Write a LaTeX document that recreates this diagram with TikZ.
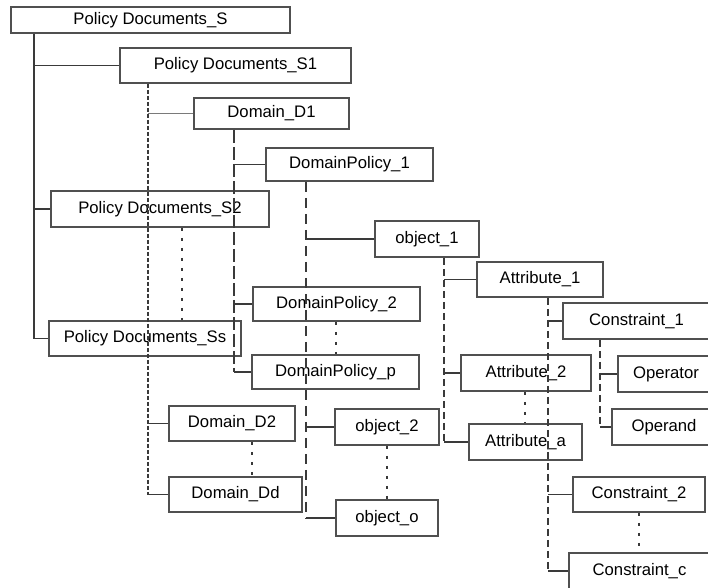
\documentclass[tikz,border=0pt]{standalone}
\usepackage{fontspec}
\setmainfont{Liberation Sans}
\definecolor{boxgray}{HTML}{505050}
\definecolor{linegray}{HTML}{3A3A3A}
\definecolor{paleline}{HTML}{7A7A7A}
\tikzset{
  box/.style={draw=boxgray, line width=1.5pt, inner sep=0pt,
    font=\fontsize{16.7}{20}\selectfont, text=black},
  link/.style={draw=linegray, line width=1.3pt},
  thinlink/.style={draw=paleline, line width=1.1pt},
  shortdash/.style={link, line width=1.6pt, dash pattern=on 4pt off 2pt},
  longdash/.style={link, dash pattern=on 13pt off 4pt},
  widedash/.style={link, dash pattern=on 10pt off 6pt},
  meddash/.style={link, dash pattern=on 7pt off 4pt},
  dotlink/.style={link, line width=1.5pt, dash pattern=on 3pt off 7pt},
}
% box from its corners: name, x1, y1, x2, y2, text
\newcommand{\mkbox}[6]{%
  \node[box, minimum width={#4-#2}, minimum height={#5-#3}]
    (#1) at ({(#2+#4)/2},{(#3+#5)/2}) {#6};}
\begin{document}
\begin{tikzpicture}[x=1pt, y=-1pt]
\useasboundingbox (0,0) rectangle (708,587);
\clip (0,0) rectangle (708,587);

% policy document level
\mkbox{S}{11}{7}{290}{33}{Policy Documents\_S}
\mkbox{Sa}{120}{48}{351}{83}{Policy Documents\_S1}
\mkbox{Sb}{51}{191}{269}{227}{Policy Documents\_S2}
\mkbox{Ss}{49}{321}{241}{356}{Policy Documents\_Ss}
% domains
\mkbox{Da}{194}{98}{349}{129}{Domain\_D1}
\mkbox{Db}{169}{406}{295}{441}{Domain\_D2}
\mkbox{Dd}{169}{477}{302}{512}{Domain\_Dd}
% domain policies
\mkbox{Pa}{266}{148}{433}{181}{DomainPolicy\_1}
\mkbox{Pb}{253}{287}{420}{321}{DomainPolicy\_2}
\mkbox{Pp}{252}{355}{419}{389}{DomainPolicy\_p}
% objects
\mkbox{Oa}{375}{221}{479}{257}{object\_1}
\mkbox{Ob}{335}{409}{439}{445}{object\_2}
\mkbox{Oo}{336}{500}{438}{536}{object\_o}
% attributes
\mkbox{Aa}{477}{262}{603}{297}{Attribute\_1}
\mkbox{Ab}{461}{355}{591}{391}{Attribute\_2}
\mkbox{Az}{469}{424}{582}{460}{Attribute\_a}
% constraints
\mkbox{Ca}{563}{303}{710}{339}{Constraint\_1}
\mkbox{Cb}{573}{477}{705}{512}{Constraint\_2}
\mkbox{Cc}{569}{553}{710}{589}{Constraint\_c}
\mkbox{Op}{618}{356}{714}{392}{Operator}
\mkbox{Od}{612}{409}{716}{445}{Operand}

% S -> S1, S2, Ss
\draw[link] (34,0 |- S.south) -- (34,0 |- Ss.west) -- (Ss.west);
\draw[link] (34,0 |- Sa.west) -- (Sa.west);
\draw[link] (34,0 |- Sb.west) -- (Sb.west);
\draw[dotlink] (182,0 |- Sb.south) -- (182,0 |- Ss.north);

% S1 -> D1, D2, Dd
\draw[shortdash] (148,0 |- Sa.south) -- (148,0 |- Dd.west);
\draw[thinlink] (148,0 |- Da.west) -- (Da.west);
\draw[link] (148,0 |- Db.west) -- (Db.west);
\draw[link] (148,0 |- Dd.west) -- (Dd.west);
\draw[dotlink] (252,0 |- Db.south) -- (252,0 |- Dd.north);

% D1 -> DomainPolicy_1, _2, _p
\draw[longdash] (234,0 |- Da.south) -- (234,0 |- Pp.west);
\draw[link] (234,0 |- Pa.west) -- (Pa.west);
\draw[link] (234,0 |- Pb.west) -- (Pb.west);
\draw[link] (234,0 |- Pp.west) -- (Pp.west);
\draw[dotlink] (336,0 |- Pb.south) -- (336,0 |- Pp.north);

% DomainPolicy_1 -> objects
\draw[widedash] (306,0 |- Pa.south) -- (306,0 |- Oo.west);
\draw[link] (306,0 |- Oa.west) -- (Oa.west);
\draw[link] (306,0 |- Ob.west) -- (Ob.west);
\draw[link] (306,0 |- Oo.west) -- (Oo.west);
\draw[dotlink] (387,0 |- Ob.south) -- (387,0 |- Oo.north);

% object_1 -> attributes
\draw[meddash] (444,0 |- Oa.south) -- (444,0 |- Az.west);
\draw[link] (444,0 |- Aa.west) -- (Aa.west);
\draw[link] (444,0 |- Ab.west) -- (Ab.west);
\draw[link] (444,0 |- Az.west) -- (Az.west);
\draw[dotlink] (525,0 |- Ab.south) -- (525,0 |- Az.north);

% Attribute_1 -> constraints
\draw[meddash] (548,0 |- Aa.south) -- (548,0 |- Cc.west);
\draw[link] (548,0 |- Ca.west) -- (Ca.west);
\draw[link] (548,0 |- Cb.west) -- (Cb.west);
\draw[link] (548,0 |- Cc.west) -- (Cc.west);
\draw[dotlink] (639,0 |- Cb.south) -- (639,0 |- Cc.north);

% Constraint_1 -> operator, operand
\draw[meddash] (600,0 |- Ca.south) -- (600,0 |- Od.west);
\draw[link] (600,0 |- Op.west) -- (Op.west);
\draw[link] (600,0 |- Od.west) -- (Od.west);
\end{tikzpicture}
\end{document}
